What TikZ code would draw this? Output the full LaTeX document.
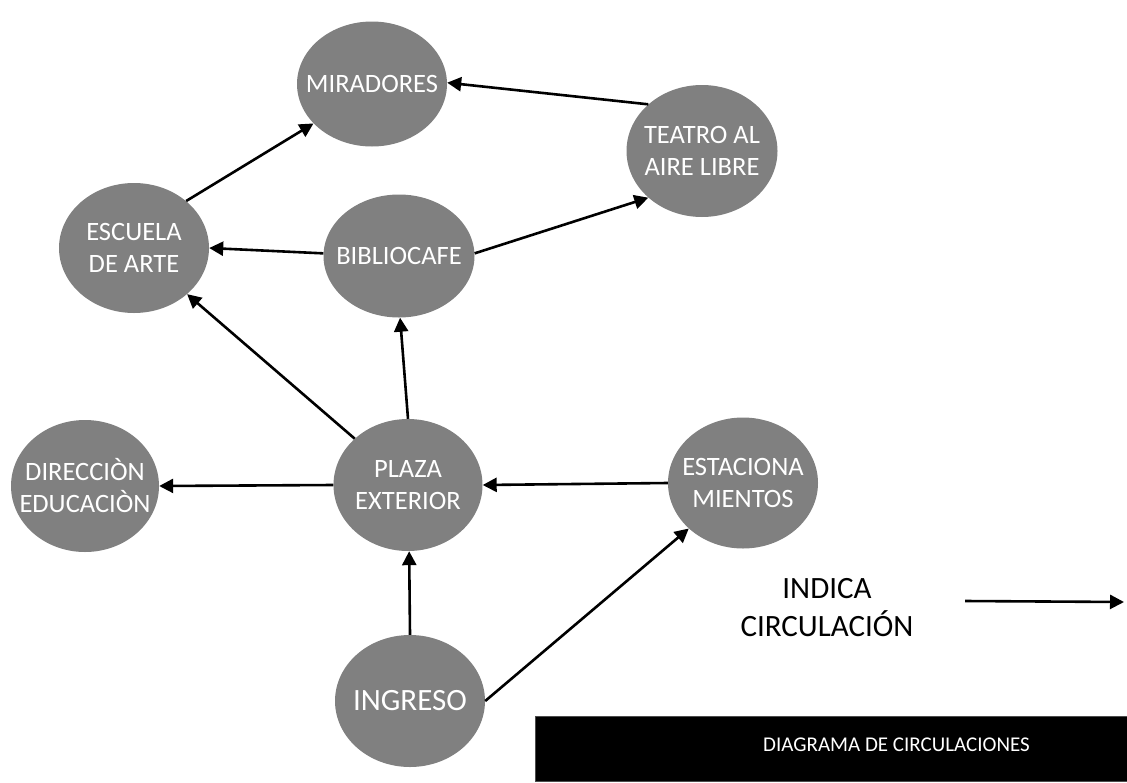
\documentclass[tikz,border=0pt]{standalone}
\usepackage{fontspec}
\setmainfont{Carlito}
\usetikzlibrary{shapes.geometric,arrows.meta}
\definecolor{nodegray}{RGB}{128,128,128}
\begin{document}
\begin{tikzpicture}[x=1pt,y=-1pt,
  place/.style={ellipse, fill=nodegray, draw=none, minimum width=150pt, minimum height=130pt, inner sep=0pt},
  ptext/.style={text=white, font=\fontsize{26.5}{32}\selectfont, align=center, inner sep=0pt},
  flow/.style={-{Triangle[length=14pt,width=14pt]}, line width=2.6pt, black}]
\useasboundingbox (0,0) rectangle (1127,782);
% nodes
\node[place, minimum height=125pt] (mir) at (372,84) {};
\node[ptext] (mirt) at (mir) {MIRADORES};
\node[place, minimum width=151pt, minimum height=132pt] (tea) at (702,151) {};
\node[ptext] (teat) at (tea) {TEATRO AL\\AIRE LIBRE};
\node[place] (esc) at (134,248) {};
\node[ptext] (esct) at (esc) {ESCUELA\\DE ARTE};
\node[place, minimum width=151pt, minimum height=123pt] (bib) at (399,256) {};
\node[ptext] (bibt) at (bib) {BIBLIOCAFE};
\node[place, minimum width=148pt, minimum height=132pt] (dir) at (85,486) {};
\node[ptext] (dirt) at (dir) {DIRECCIÒN\\EDUCACIÒN};
\node[place, minimum width=149pt, minimum height=132pt] (pla) at (408,485) {};
\node[ptext] (plat) at (pla) {PLAZA\\EXTERIOR};
\node[place, minimum height=131pt] (est) at (743,483) {};
\node[ptext] (estt) at (est) {ESTACIONA\\MIENTOS};
\node[place, minimum height=132pt] (ing) at (410,701) {};
\node[ptext, font=\fontsize{31}{38}\selectfont] (ingt) at (ing) {INGRESO};
% connectors
\draw[flow] (esc.42) -- (mir.214);
\draw[flow] (tea.139) -- (mir.1);
\draw[flow] (bib.2) -- (tea.221);
\draw[flow] (bib.178) -- (esc.0);
\draw[flow] (pla.139) -- (esc.319);
\draw[flow] (pla.90) -- (bib.271);
\draw[flow] (pla.180) -- (dir.0);
\draw[flow] (est.180) -- (pla.0);
\draw[flow] (ing.90) -- (pla.271);
\draw[flow] (ing.0) -- (est.220);
% legend
\node[font=\fontsize{31}{38}\selectfont, align=center] (leg) at (827,608) {INDICA\\CIRCULACIÓN};
\coordinate (la) at (965,601);
\coordinate (lb) at (1124,602);
\draw[flow] (la) -- (lb);
% title bar
\node[fill=black, draw=black!70, minimum width=592pt, minimum height=65pt, inner sep=0pt, anchor=north west] (bar) at (535,716) {};
\node[text=white, font=\fontsize{21}{25}\selectfont, anchor=east, inner sep=0pt] (title) at (1030,745) {DIAGRAMA DE CIRCULACIONES};
\end{tikzpicture}
\end{document}
